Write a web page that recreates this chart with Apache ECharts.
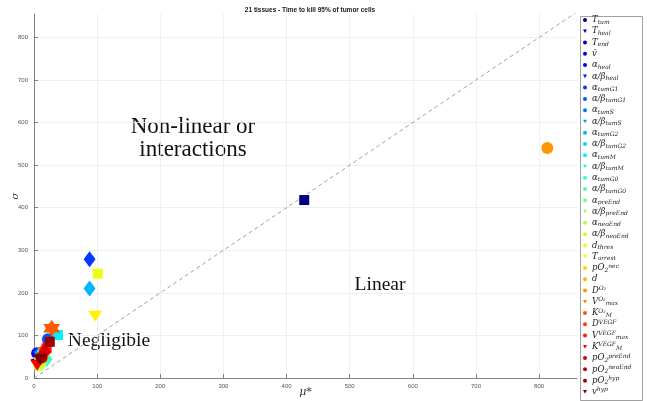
<!DOCTYPE html>
<html>
<head>
<meta charset="utf-8">
<script src="https://cdn.jsdelivr.net/npm/echarts@6/dist/echarts.min.js"></script>
<style>html,body{margin:0;padding:0;background:#fff}#c{width:647px;height:401px}</style>
</head>
<body>
<div id="c"></div>
<script>
// ---- data ----
const paramNames = ['T_tum','T_heal','T_end','vbar','a_heal','ab_heal','a_tumG1','ab_tumG1','a_tumS','ab_tumS',
  'a_tumG2','ab_tumG2','a_tumM','ab_tumM','a_tumG0','ab_tumG0','a_preEnd','ab_preEnd','a_neoEnd','ab_neoEnd',
  'd_thres','T_arrest','pO2_nec','d','D_O2','Vmax_O2','KM_O2','D_VEGF','Vmax_VEGF','KM_VEGF',
  'pO2_preEnd','pO2_neoEnd','pO2_hyp','v_hyp'];
const paramLabels = ['{m|T}{b|tum}','{m|T}{b|heal}','{m|T}{b|end}','{m|v\u0304}','{m|α}{b|heal}','{m|α/β}{b|heal}',
  '{m|α}{b|tumG1}','{m|α/β}{b|tumG1}','{m|α}{b|tumS}','{m|α/β}{b|tumS}','{m|α}{b|tumG2}','{m|α/β}{b|tumG2}',
  '{m|α}{b|tumM}','{m|α/β}{b|tumM}','{m|α}{b|tumG0}','{m|α/β}{b|tumG0}','{m|α}{b|preEnd}','{m|α/β}{b|preEnd}',
  '{m|α}{b|neoEnd}','{m|α/β}{b|neoEnd}','{m|d}{b|thres}','{m|T}{b|arrest}','{m|pO}{b|2}{p|nec}','{m|d}',
  '{m|D}{p|O₂}','{m|V}{p|O₂}{b|max}','{m|K}{p|O₂}{b|M}','{m|D}{p|VEGF}','{m|V}{p|VEGF}{b|max}','{m|K}{p|VEGF}{b|M}',
  '{m|pO}{b|2}{p|preEnd}','{m|pO}{b|2}{p|neoEnd}','{m|pO}{b|2}{p|hyp}','{m|v}{p|hyp}'];
const muStar = [428, 6, 5, 5, 8, 10, 88, 22, 12, 10,
  88, 14, 38, 15, 20, 14, 12, 9, 10, 8,
  101, 97, 12, 14, 813, 16, 28, 18, 20, 5,
  17, 12, 25, 10];
const sigma = [418, 32, 40, 58, 48, 55, 279, 91, 60, 50,
  210, 58, 101, 52, 44, 48, 40, 36, 35, 30,
  245, 145, 45, 50, 540, 60, 117, 66, 70, 30,
  62, 48, 85, 43];
const markerKinds = ['rect','tri','diamond','circle','rect','tri','diamond','circle','rect','tri',
  'diamond','circle','rect','tri','diamond','circle','rect','tri','diamond','circle',
  'rect','tri','diamond','circle','circle','tri','hex','circle','rect','tri',
  'diamond','circle','rect','tri'];
const xTicks = [0,100,200,300,400,500,600,700,800];
const yTicks = [0,100,200,300,400,500,600,700,800];
const diagonal = [[0,0],[860,860]];

// ---- styles ----
function jet(t){
  const c = v => Math.max(0, Math.min(1, v));
  const r = c(Math.min(4*t-1.5, -4*t+4.5));
  const g = c(Math.min(4*t-0.5, -4*t+3.5));
  const b = c(Math.min(4*t+0.5, -4*t+2.5));
  return 'rgb(' + Math.round(r*255) + ',' + Math.round(g*255) + ',' + Math.round(b*255) + ')';
}
const HEX = 'path://M0,-10 L2.89,-5 L8.66,-5 L5.77,0 L8.66,5 L2.89,5 L0,10 L-2.89,5 L-8.66,5 L-5.77,0 L-8.66,-5 L-2.89,-5 Z';
const TRI_DOWN = 'path://M0,0 L10,0 L5,9 Z';
const shapeMap = {
  rect: {symbol:'rect', symbolSize:10, symbolRotate:0},
  tri: {symbol:'triangle', symbolSize:[14,11], symbolRotate:180},
  diamond: {symbol:'diamond', symbolSize:[12,16], symbolRotate:0},
  circle: {symbol:'circle', symbolSize:12, symbolRotate:0},
  hex: {symbol:HEX, symbolSize:17, symbolRotate:0}
};
const labelMap = {};
paramNames.forEach((n,i) => labelMap[n] = paramLabels[i]);
const colors = paramNames.map((n,i) => jet(i/(paramNames.length-1)));

const series = paramNames.map((n,i) => {
  const s = shapeMap[markerKinds[i]];
  return {
    name: n, type: 'scatter', symbol: s.symbol, symbolSize: s.symbolSize, symbolRotate: s.symbolRotate,
    itemStyle: {color: colors[i], opacity: 1},
    data: [[muStar[i], sigma[i]]], z: 3 + i*0.01
  };
});
series.unshift({
  name: 'diag', type: 'line', data: diagonal, symbol: 'none', silent: true,
  lineStyle: {color: '#8a8a8a', width: 0.8, type: [4,3]}, z: 2
});

const legendData = paramNames.map((n,i) => ({
  name: n,
  icon: markerKinds[i] === 'tri' ? TRI_DOWN : 'circle',
  itemStyle: {color: colors[i]}
}));

const serif = 'DejaVu Serif';
const option = {
  animation: false,
  backgroundColor: '#fff',
  title: {text: '21 tissues - Time to kill 95% of tumor cells', left: 305, textAlign: 'center', top: 2,
    textStyle: {fontSize: 6.5, fontWeight: 'bold', color: '#222', fontFamily: 'Liberation Sans'}},
  grid: {left:34, right:70, top:14, bottom:23, outerBoundsMode:'none', containLabel:false},
  xAxis: {type:'value', min:0, max:860, interval:100,
    name:'μ*', nameLocation:'middle', nameGap:9, nameMoveOverlap:false,
    nameTextStyle:{fontFamily:serif, fontStyle:'italic', fontSize:11, color:'#333'},
    axisLine:{show:true, lineStyle:{color:'#666', width:0.8}},
    axisTick:{show:true, inside:true, length:4, lineStyle:{color:'#666', width:0.8}},
    axisLabel:{fontSize:6, color:'#555', margin:5, showMaxLabel:false,
      formatter: v => xTicks.indexOf(v) >= 0 ? String(v) : ''},
    splitLine:{show:true, showMaxLine:false, lineStyle:{color:'#ebebeb', width:0.8}}},
  yAxis: {type:'value', min:0, max:855, interval:100,
    name:'σ', nameLocation:'middle', nameGap:14, nameRotate:90, nameMoveOverlap:false,
    nameTextStyle:{fontFamily:serif, fontStyle:'italic', fontSize:10, color:'#333'},
    axisLine:{show:true, lineStyle:{color:'#666', width:0.8}},
    axisTick:{show:true, inside:true, length:4, lineStyle:{color:'#666', width:0.8}},
    axisLabel:{fontSize:6, color:'#555', margin:6, showMaxLabel:false,
      formatter: v => yTicks.indexOf(v) >= 0 ? String(v) : ''},
    splitLine:{show:true, showMaxLine:false, lineStyle:{color:'#ebebeb', width:0.8}}},
  legend: {
    data: legendData, orient:'vertical', left: 583, top: 15, padding: 0,
    itemWidth: 4, itemHeight: 4, itemGap: 1.27, selectedMode: false,
    formatter: n => labelMap[n],
    textStyle: {fontFamily: serif, fontSize: 8.5, color:'#222', lineHeight: 10,
      rich: {
        m: {fontFamily: serif, fontStyle:'italic', fontSize: 8.5, color:'#222', lineHeight: 10},
        b: {fontFamily: serif, fontStyle:'italic', fontSize: 6, color:'#222', lineHeight: 6, verticalAlign:'bottom'},
        p: {fontFamily: serif, fontStyle:'italic', fontSize: 6, color:'#222', lineHeight: 6, verticalAlign:'top'}
      }}
  },
  graphic: [
    {type:'rect', left: 578, top: 14, shape:{width: 62, height: 384}, style:{fill:'none', stroke:'#888', lineWidth:0.8}, z: 0},
    {type:'text', x: 193, y: 138, style:{text:'Non-linear or\ninteractions', font:'23px "Liberation Serif"', fill:'#111', align:'center', verticalAlign:'middle', lineHeight: 23}},
    {type:'text', x: 380, y: 285, style:{text:'Linear', font:'19.5px "Liberation Serif"', fill:'#111', align:'center', verticalAlign:'middle'}},
    {type:'text', x: 109, y: 341, style:{text:'Negligible', font:'19.5px "Liberation Serif"', fill:'#111', align:'center', verticalAlign:'middle'}}
  ],
  series: series
};
const chart = echarts.init(document.getElementById('c'), null, {renderer:'canvas'});
chart.setOption(option);
</script>
</body>
</html>
